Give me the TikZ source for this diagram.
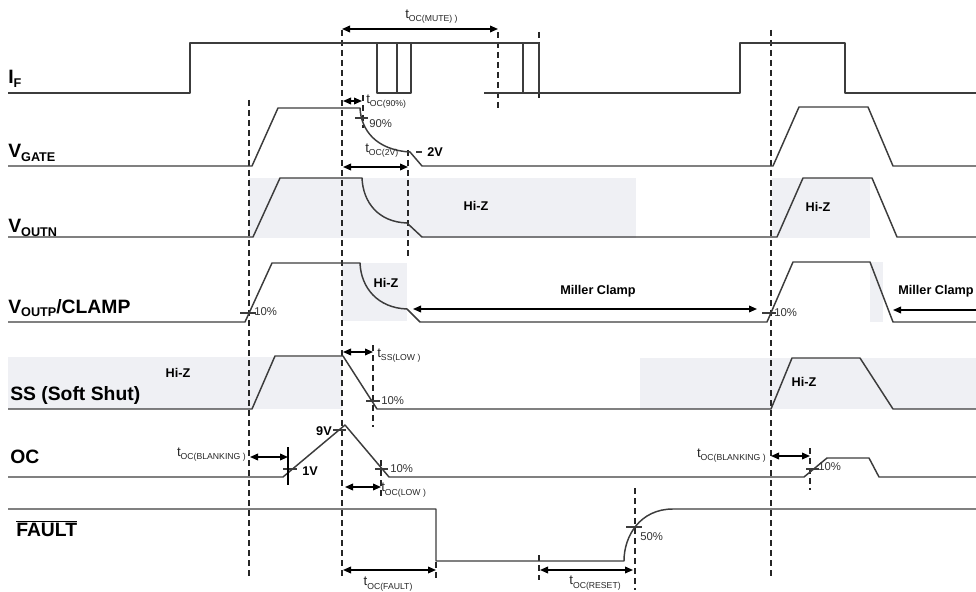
\documentclass[tikz,border=0pt]{standalone}
\usepackage{fontspec}
\setmainfont{Liberation Sans}
\usetikzlibrary{arrows.meta}
\definecolor{wavec}{HTML}{3C3C3C}
\definecolor{hizc}{HTML}{EFF0F4}
\newcommand\tsb[1]{t\raisebox{-0.45ex}{\fontsize{6.5}{6.5}\selectfont #1}}
\newcommand\vlb[2]{#1\raisebox{-0.35ex}{\fontsize{9.5}{9.5}\selectfont #2}}
\tikzset{
  wave/.style={draw=wavec, line width=1.1pt, line join=round},
  vdash/.style={draw=black!85, line width=0.9pt, dash pattern=on 4.5pt off 3pt},
  dimarrow/.style={draw=black, line width=1.1pt, {Triangle[length=6pt,width=5pt]}-{Triangle[length=6pt,width=5pt]}},
  onearrow/.style={draw=black, line width=1.1pt, -{Triangle[length=6pt,width=5pt]}},
  hiz/.style={fill=hizc, draw=none},
  tickmk/.style={draw=wavec, line width=0.9pt},
  sigtext/.style={font=\fontsize{14.5}{15}\selectfont\bfseries, anchor=base west, inner sep=0pt},
  boldsm/.style={font=\fontsize{9.5}{10}\selectfont\bfseries, inner sep=0pt},
  pct/.style={font=\fontsize{8.5}{8.5}\selectfont, anchor=west, inner sep=0pt, text=black!80},
  tlab/.style={font=\fontsize{10}{10}\selectfont, inner sep=0pt, text=black!85}
}
\begin{document}
\begin{tikzpicture}[x=0.75pt,y=-0.75pt]
\useasboundingbox (0,0) rectangle (976,592);
% Hi-Z shading
\fill[hiz] (249,178) rectangle (636,238);
\fill[hiz] (772,178) rectangle (870,238);
\fill[hiz] (342,263) rectangle (407,321);
\fill[hiz] (870,262) rectangle (883,322);
\fill[hiz] (8,357) rectangle (342,409);
\fill[hiz] (640,358) rectangle (976,409);
% dashed verticals
\draw[vdash] (249,100) -- (249,580);
\draw[vdash] (342,30) -- (342,580);
\draw[vdash] (498,32) -- (498,112);
\draw[vdash] (539,32) -- (539,100);
\draw[vdash] (363,95) -- (363,128);
\draw[vdash] (408,150) -- (408,260);
\draw[vdash] (373,345) -- (373,427);
\draw[vdash] (381,460) -- (381,500);
\draw[vdash] (436,562) -- (436,578);
\draw[vdash] (539,555) -- (539,580);
\draw[vdash] (635,488) -- (635,590);
\draw[vdash] (771,30) -- (771,580);
\draw[vdash] (810,448) -- (810,490);
% I_F
\draw[wave] (8,93) -- (190,93) -- (190,43) -- (539,43) -- (539,93);
\draw[wave] (377,43) -- (377,93) -- (411,93) -- (411,43);
\draw[wave] (397,43) -- (397,93);
\draw[wave] (523,43) -- (523,93);
\draw[wave] (484,93) -- (740,93) -- (740,43) -- (845,43) -- (845,93) -- (976,93);
\draw[draw=wavec, line width=1.6pt] (484,93) -- (556,93);
% V_GATE
\draw[wave] (8,166) -- (252,166) -- (278,108) -- (360,108) .. controls (361,130) and (376,150) .. (410,152) -- (422,166) -- (773,166) -- (799,107) -- (868,107) -- (893,166) -- (976,166);
% V_OUTN
\draw[wave] (8,237) -- (253,237) -- (280,178) -- (362,178) .. controls (363,202) and (378,222) .. (407,223) -- (422,237) -- (777,237) -- (803,178) -- (872,178) -- (897,237) -- (976,237);
% V_OUTP
\draw[wave] (8,322) -- (245,322) -- (272,263) -- (360,263) .. controls (361,288) and (378,308) .. (407,309) -- (420,322) -- (767,322) -- (793,262) -- (870,262) -- (893,322) -- (976,322);
% SS
\draw[wave] (8,409) -- (252,409) -- (275,356) -- (343,356) -- (377,409) -- (771,409) -- (792,358) -- (860,358) -- (893,409) -- (976,409);
% OC
\draw[wave] (8,477) -- (283,477) -- (345,425) -- (389,477) -- (804,477) -- (827,458) -- (869,458) -- (879,477) -- (976,477);
% FAULT
\draw[wave] (8,509) -- (436,509) -- (436,561) -- (624,561) .. controls (624,536) and (640,509) .. (673,509) -- (976,509);
% ticks
\draw[tickmk] (355,118) -- (368,118);
\draw[tickmk] (416,152) -- (422,152);
\draw[tickmk] (240,313) -- (256,313);
\draw[tickmk] (762,313) -- (776,313);
\draw[tickmk] (366,401) -- (380,401);
\draw[tickmk] (283,469) -- (297,469);
\draw[tickmk] (333,430) -- (346,430);
\draw[tickmk] (375,469) -- (388,469);
\draw[tickmk] (806,469) -- (819,469);
\draw[tickmk] (626,527) -- (642,527);
\draw[draw=black, line width=1pt] (288,447) -- (288,485);
% dimension arrows
\draw[dimarrow] (342,29) -- (498,29);
\draw[dimarrow] (343,101) -- (362,101);
\draw[dimarrow] (343,167) -- (408,167);
\draw[dimarrow] (413,309) -- (757,309);
\draw[onearrow] (976,310) -- (893,310);
\draw[dimarrow] (343,352) -- (373,352);
\draw[dimarrow] (250,457) -- (288,457);
\draw[dimarrow] (345,487) -- (381,487);
\draw[dimarrow] (771,456) -- (810,456);
\draw[dimarrow] (343,570) -- (436,570);
\draw[dimarrow] (540,570) -- (633,570);
% signal names
\node[sigtext] (nIF) at (8,84) {\vlb{I}{F}};
\node[sigtext] (nVG) at (8,158) {\vlb{V}{GATE}};
\node[sigtext] (nVN) at (8,233) {\vlb{V}{OUTN}};
\node[sigtext] (nVP) at (8,313) {\vlb{V}{OUTP}/CLAMP};
\node[sigtext] (nSS) at (10,400) {SS (Soft Shut)};
\node[sigtext] (nOC) at (10,463) {OC};
\node[sigtext] (nFT) at (16,536) {$\overline{\mbox{FAULT}}$};
% timing labels
\node[tlab, anchor=west] (lmute) at (405,17) {\tsb{OC(MUTE) )}};
\node[tlab, anchor=west] (l90t) at (366,102) {\tsb{OC(90\%)}};
\node[pct] (l90) at (369,124) {90\%};
\node[tlab, anchor=west] (l2vt) at (365,151) {\tsb{OC(2V)}};
\node[boldsm, anchor=west] (l2v) at (427,152) {2V};
\node[boldsm] (hz1) at (476,206) {Hi-Z};
\node[boldsm] (hz2) at (818,207) {Hi-Z};
\node[boldsm] (hz3) at (386,283) {Hi-Z};
\node[boldsm] (mc1) at (598,291) {Miller Clamp};
\node[boldsm] (mc2) at (936,291) {Miller Clamp};
\node[pct] (p10a) at (254,312) {10\%};
\node[pct] (p10b) at (774,313) {10\%};
\node[boldsm] (hz4) at (178,373) {Hi-Z};
\node[boldsm] (hz5) at (804,382) {Hi-Z};
\node[tlab, anchor=west] (lss) at (377,356) {\tsb{SS(LOW )}};
\node[pct] (p10c) at (381,401) {10\%};
\node[boldsm, anchor=east] (l9v) at (332,431) {9V};
\node[boldsm, anchor=west] (l1v) at (302,471) {1V};
\node[tlab, anchor=east] (lbl1) at (246,455) {\tsb{OC(BLANKING )}};
\node[pct] (p10d) at (390,469) {10\%};
\node[tlab, anchor=west] (llow) at (381,490) {\tsb{OC(LOW )}};
\node[tlab, anchor=east] (lbl2) at (766,456) {\tsb{OC(BLANKING )}};
\node[pct] (p10e) at (818,467) {10\%};
\node[pct] (p50) at (640,537) {50\%};
\node[tlab] (lflt) at (388,584) {\tsb{OC(FAULT)}};
\node[tlab] (lrst) at (595,583) {\tsb{OC(RESET)}};
\end{tikzpicture}
\end{document}
